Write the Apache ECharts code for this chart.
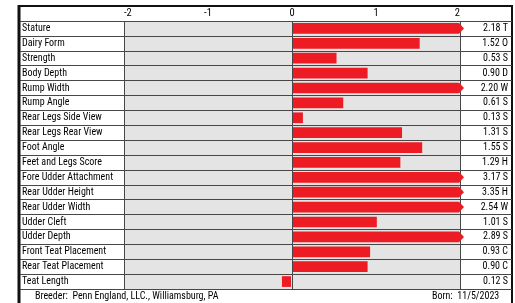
<!DOCTYPE html>
<html>
<head>
<meta charset="utf-8">
<script src="https://cdn.jsdelivr.net/npm/echarts@6/dist/echarts.min.js"></script>
<style>
html, body { margin: 0; padding: 0; background: #fff; }
#chart { width: 515px; height: 303px; }
</style>
</head>
<body>
<div id="chart"></div>
<script>
// traits, top to bottom
const traits = ['Stature', 'Dairy Form', 'Strength', 'Body Depth', 'Rump Width', 'Rump Angle',
    'Rear Legs Side View', 'Rear Legs Rear View', 'Foot Angle', 'Feet and Legs Score',
    'Fore Udder Attachment', 'Rear Udder Height', 'Rear Udder Width', 'Udder Cleft',
    'Udder Depth', 'Front Teat Placement', 'Rear Teat Placement', 'Teat Length']
const values = [2.18, 1.52, 0.53, 0.90, 2.20, 0.61, 0.13, 1.31, 1.55, 1.29,
    3.17, 3.35, 2.54, 1.01, 2.89, 0.93, 0.90, -0.12]
const suffixes = ['T', 'O', 'S', 'D', 'W', 'S', 'S', 'S', 'S', 'H',
    'S', 'H', 'W', 'S', 'S', 'C', 'C', 'S']
const tickLabels = ['-2', '-1', '0', '1', '2']
const breeder = 'Breeder:  Penn England, LLC., Williamsburg, PA'
const born = 'Born:  11/5/2023'

const axisMin = -2
const axisMax = 2
const red = '#ed1c24'
const lineColor = '#474747'
const font = '"Roboto Condensed", "DejaVu Sans Condensed", "Liberation Sans", sans-serif'

const valueLabels = values.map((v, i) => Math.abs(v).toFixed(2) + ' ' + suffixes[i])

// bar drawn from 0, capped at the axis end with a little arrow tip
function renderBar(params, api) {
    const v = api.value(0)
    const idx = api.value(1)
    const start = api.coord([0, idx])
    const end = api.coord([Math.min(v, axisMax), idx])
    const h = api.size([0, 1])[1] * 0.72
    const top = start[1] - h / 2
    const bottom = start[1] + h / 2
    if (v > axisMax) {
        return {
            type: 'polygon',
            shape: { points: [[start[0] + 1, top], [end[0] - 1, top], [end[0] + 4, start[1]], [end[0] - 1, bottom], [start[0] + 1, bottom]] },
            style: { fill: red }
        }
    }
    const x0 = v >= 0 ? start[0] + 1 : end[0]
    const w = Math.abs(end[0] - start[0]) - 1
    return {
        type: 'rect',
        shape: { x: x0, y: top, width: w, height: h },
        style: { fill: red }
    }
}

const chart = echarts.init(document.getElementById('chart'), null, { renderer: 'canvas' })
chart.setOption({
    animation: false,
    textStyle: { fontFamily: font },
    grid: [
        { left: 20, right: 3, top: 21, height: 268 },
        { left: 124, right: 55, top: 21, height: 268, show: true, backgroundColor: '#e4e4e4', borderWidth: 0 }
    ],
    xAxis: [
        { gridIndex: 0, type: 'value', show: false, min: 0, max: 1 },
        {
            gridIndex: 1, type: 'value', position: 'top', min: axisMin, max: axisMax, interval: 1,
            axisLine: { show: false }, axisTick: { show: false }, splitLine: { show: false },
            axisLabel: {
                margin: 2, color: '#000', fontSize: 10.5, fontFamily: font,
                alignMinLabel: 'left', alignMaxLabel: 'right',
                formatter: (v) => tickLabels[Math.round(v - axisMin)]
            }
        },
        {
            gridIndex: 1, type: 'value', position: 'top', min: axisMin, max: axisMax, interval: 2,
            axisLine: { show: false }, axisTick: { show: false }, axisLabel: { show: false },
            splitLine: { show: true, lineStyle: { color: lineColor, width: 1 } }
        }
    ],
    yAxis: [
        {
            gridIndex: 0, type: 'category', data: traits, inverse: true, position: 'left',
            axisLine: { show: false }, axisTick: { show: false },
            axisLabel: { inside: true, margin: 2, align: 'left', color: '#000', fontSize: 10, fontFamily: font },
            splitLine: { show: true, interval: 0, lineStyle: { color: lineColor, width: 1 } }
        },
        {
            gridIndex: 0, type: 'category', data: valueLabels, inverse: true, position: 'right',
            axisLine: { show: false }, axisTick: { show: false },
            axisLabel: { inside: true, margin: 4, align: 'right', color: '#000', fontSize: 10, fontFamily: font },
            splitLine: { show: false }
        },
        {
            gridIndex: 1, type: 'category', data: traits, inverse: true,
            axisLine: { show: false }, axisTick: { show: false }, axisLabel: { show: false },
            splitLine: { show: true, interval: 0, lineStyle: { color: lineColor, width: 1 } }
        }
    ],
    series: [{
        type: 'custom',
        xAxisIndex: 1,
        yAxisIndex: 2,
        renderItem: renderBar,
        encode: { x: 0, y: 1 },
        data: values.map((v, i) => [v, i]),
        z: 5
    }],
    graphic: [
        { type: 'line', shape: { x1: 19, y1: 5, x2: 19, y2: 303 }, style: { stroke: '#111', lineWidth: 3 } },
        { type: 'line', shape: { x1: 18, y1: 6, x2: 513, y2: 6 }, style: { stroke: '#111', lineWidth: 2 } },
        { type: 'line', shape: { x1: 512, y1: 5, x2: 512, y2: 303 }, style: { stroke: '#111', lineWidth: 2 } },
        { type: 'text', left: 35, top: 291, style: { text: breeder, fill: '#000', font: '10px ' + font } },
        { type: 'text', left: 432, top: 291, style: { text: born, fill: '#000', font: '10px ' + font } }
    ]
})
</script>
</body>
</html>
